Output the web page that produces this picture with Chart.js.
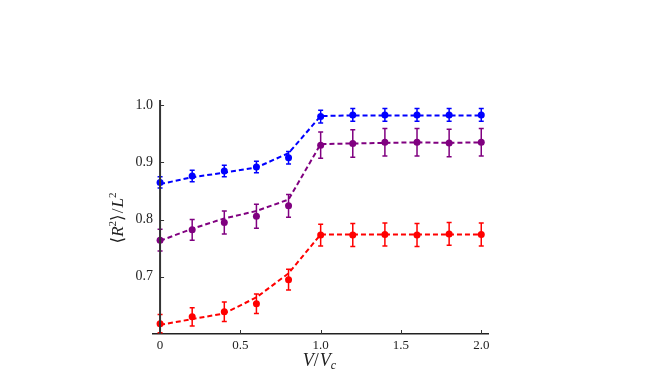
<!DOCTYPE html>
<html><head><meta charset="utf-8">
<script src="https://cdn.jsdelivr.net/npm/chart.js@4.4.1/dist/chart.umd.min.js"></script>
<style>html,body{margin:0;padding:0;background:#fff}canvas{display:block}</style>
</head><body>
<canvas id="c" width="646" height="375"></canvas>
<script>
// ---- data ----
const xValues = [0, 0.2, 0.4, 0.6, 0.8, 1.0, 1.2, 1.4, 1.6, 1.8, 2.0];

const blueValues   = [0.865, 0.876, 0.885, 0.892, 0.908, 0.980, 0.983, 0.983, 0.983, 0.983, 0.983];
const blueErrors   = [0.010, 0.010, 0.010, 0.010, 0.011, 0.011, 0.011, 0.011, 0.011, 0.011, 0.011];
const blueFit      = [0.862, 0.874, 0.882, 0.891, 0.916, 0.981, 0.982, 0.982, 0.982, 0.982, 0.982];

const purpleValues = [0.764, 0.782, 0.795, 0.806, 0.824, 0.930, 0.933, 0.935, 0.935, 0.934, 0.935];
const purpleErrors = [0.019, 0.018, 0.020, 0.021, 0.020, 0.023, 0.024, 0.024, 0.024, 0.024, 0.024];
const purpleFit    = [0.763, 0.784, 0.802, 0.815, 0.835, 0.932, 0.933, 0.934, 0.935, 0.934, 0.935];

const redValues    = [0.618, 0.630, 0.639, 0.653, 0.695, 0.773, 0.773, 0.774, 0.773, 0.775, 0.774];
const redErrors    = [0.016, 0.016, 0.017, 0.017, 0.018, 0.019, 0.020, 0.020, 0.020, 0.020, 0.020];
const redFit       = [0.616, 0.626, 0.636, 0.664, 0.706, 0.774, 0.774, 0.774, 0.774, 0.774, 0.774];

const xTickValues = [0, 0.5, 1.0, 1.5, 2.0];
const xTickLabels = ['0', '0.5', '1.0', '1.5', '2.0'];
const yTickValues = [0.7, 0.8, 0.9, 1.0];
const yTickLabels = ['0.7', '0.8', '0.9', '1.0'];

const series = [
  {color: '#0000ff', values: blueValues, errors: blueErrors, fit: blueFit},
  {color: '#800080', values: purpleValues, errors: purpleErrors, fit: purpleFit},
  {color: '#ff0000', values: redValues, errors: redErrors, fit: redFit}
];

const pts = (ys) => xValues.map((x, i) => ({x: x, y: ys[i]}));

const datasets = [];
series.forEach((s, k) => {
  datasets.push({
    type: 'line', data: pts(s.fit), borderColor: s.color, borderWidth: 2,
    borderDash: [5, 3], pointRadius: 0, fill: false, tension: 0, order: 10 + k
  });
  datasets.push({
    type: 'scatter', data: pts(s.values), backgroundColor: s.color, borderColor: s.color,
    pointRadius: 3.5, borderWidth: 0, showLine: false, order: k,
    errors: s.errors
  });
});

const SERIF = '"Liberation Serif", "DejaVu Serif", serif';

function drawRuns(ctx, runs, cx, baseY) {
  let total = 0;
  runs.forEach(r => { ctx.font = r.f; r.w = ctx.measureText(r.t).width; total += r.w + (r.sp || 0); });
  let x = cx - total / 2;
  runs.forEach(r => {
    ctx.font = r.f;
    ctx.fillText(r.t, x, baseY + (r.dy || 0));
    x += r.w + (r.sp || 0);
  });
}

const decor = {
  id: 'decor',
  afterDatasetsDraw(chart) {
    const ctx = chart.ctx;
    const xs = chart.scales.x, ys = chart.scales.y;
    // error bars
    chart.data.datasets.forEach((ds, di) => {
      if (!ds.errors) return;
      ctx.save();
      ctx.strokeStyle = ds.borderColor;
      ctx.lineWidth = 1.5;
      ds.data.forEach((p, i) => {
        const px = xs.getPixelForValue(p.x);
        const y1 = ys.getPixelForValue(p.y - ds.errors[i]);
        const y2 = ys.getPixelForValue(p.y + ds.errors[i]);
        ctx.beginPath();
        ctx.moveTo(px, y1); ctx.lineTo(px, y2);
        ctx.moveTo(px - 2.5, y1); ctx.lineTo(px + 2.5, y1);
        ctx.moveTo(px - 2.5, y2); ctx.lineTo(px + 2.5, y2);
        ctx.stroke();
      });
      ctx.restore();
    });
  },
  afterDraw(chart) {
    const ctx = chart.ctx;
    const xs = chart.scales.x, ys = chart.scales.y;
    const a = chart.chartArea;
    const x0 = xs.getPixelForValue(0);
    ctx.save();
    // y axis line at x = 0
    ctx.strokeStyle = '#333';
    ctx.lineWidth = 2;
    ctx.beginPath();
    ctx.moveTo(x0, a.top); ctx.lineTo(x0, a.bottom);
    ctx.stroke();
    // inward ticks
    ctx.lineWidth = 1;
    ctx.strokeStyle = '#333';
    ctx.beginPath();
    yTickValues.forEach(v => {
      const py = Math.round(ys.getPixelForValue(v)) + 0.5;
      ctx.moveTo(x0, py); ctx.lineTo(x0 + 4, py);
    });
    xTickValues.forEach(v => {
      const px = Math.round(xs.getPixelForValue(v)) + 0.5;
      ctx.moveTo(px, a.bottom); ctx.lineTo(px, a.bottom - 4);
    });
    ctx.stroke();
    // axis titles
    ctx.fillStyle = '#222';
    ctx.textBaseline = 'alphabetic';
    drawRuns(ctx, [
      {t: 'V', f: 'italic 18px ' + SERIF},
      {t: '/', f: '18px ' + SERIF, sp: 1},
      {t: 'V', f: 'italic 18px ' + SERIF},
      {t: 'c', f: 'italic 12px ' + SERIF, dy: 3}
    ], (a.left + a.right) / 2 - 1, 366);
    ctx.translate(123, 218);
    ctx.rotate(-Math.PI / 2);
    drawRuns(ctx, [
      {t: '\u27E8', f: '17px "DejaVu Serif", serif'},
      {t: 'R', f: 'italic 17px ' + SERIF},
      {t: '2', f: '11px ' + SERIF, dy: -7},
      {t: '\u27E9', f: '17px "DejaVu Serif", serif', sp: 1},
      {t: '/', f: '17px ' + SERIF, sp: 1},
      {t: 'L', f: 'italic 17px ' + SERIF},
      {t: '2', f: '11px ' + SERIF, dy: -7}
    ], 0, 0);
    ctx.restore();
  }
};

new Chart(document.getElementById('c'), {
  data: {datasets: datasets},
  options: {
    responsive: false,
    animation: false,
    devicePixelRatio: 1,
    layout: {padding: {left: 0, right: 158, top: 100, bottom: 0}},
    plugins: {legend: {display: false}, tooltip: {enabled: false}},
    scales: {
      x: {
        type: 'linear', min: -0.044, max: 2.042,
        afterBuildTicks: s => { s.ticks = xTickValues.map(v => ({value: v})); },
        afterFit: s => { s.height = 41; },
        ticks: {
          callback: (v) => { const i = xTickValues.indexOf(v); return i >= 0 ? xTickLabels[i] : ''; },
          font: {family: SERIF, size: 13}, color: '#222', padding: 4, maxRotation: 0, autoSkip: false
        },
        grid: {display: true, drawOnChartArea: false, drawTicks: false},
        border: {display: true, color: '#222', width: 1.5}
      },
      y: {
        type: 'linear', min: 0.6, max: 1.009, position: 'left',
        afterBuildTicks: s => { s.ticks = yTickValues.map(v => ({value: v})); },
        afterFit: s => { s.width = 153; },
        ticks: {
          callback: (v) => { const i = yTickValues.findIndex(t => Math.abs(t - v) < 1e-9); return i >= 0 ? yTickLabels[i] : ''; },
          font: {family: SERIF, size: 14}, color: '#222', padding: 0
        },
        grid: {display: false, drawTicks: false},
        border: {display: false}
      }
    }
  },
  plugins: [decor]
});
</script>
</body></html>
